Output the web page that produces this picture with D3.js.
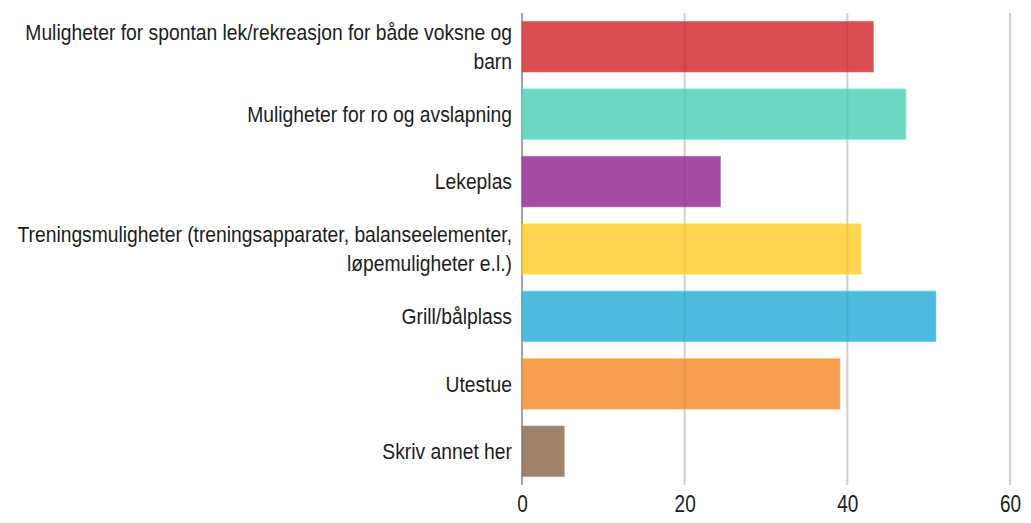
<!DOCTYPE html>
<html>
<head>
<meta charset="utf-8">
<script src="https://cdn.jsdelivr.net/npm/d3@7"></script>
<style>
  html, body { margin: 0; padding: 0; background: #fff; }
  .label text, .tick text { font-family: "Liberation Sans", Arial, sans-serif; fill: #1c1c1c; }
</style>
</head>
<body>
<div id="chart"></div>
<script>
// data
const categories = [
  "Muligheter for spontan lek/rekreasjon for både voksne og barn",
  "Muligheter for ro og avslapning",
  "Lekeplas",
  "Treningsmuligheter (treningsapparater, balanseelementer, løpemuligheter e.l.)",
  "Grill/bålplass",
  "Utestue",
  "Skriv annet her"
];
const values = [43.2, 47.2, 24.4, 41.7, 50.9, 39.1, 5.2];
const colors = ["#d94c4f", "#6dd8c2", "#a64ca6", "#ffd54f", "#4dbae0", "#f5a050", "#a0826a"];
const xTicks = [0, 20, 40, 60];

const width = 1031, height = 523;
const margin = {top: 13, right: 21, bottom: 38, left: 522};

const svg = d3.select("#chart").append("svg")
  .attr("width", width)
  .attr("height", height);

const x = d3.scaleLinear().domain([0, 60]).range([margin.left, width - margin.right]);
const y = d3.scaleBand().domain(categories).range([margin.top, height - margin.bottom])
  .paddingInner(0.25).paddingOuter(0.125);

function grid(color) {
  svg.append("g")
    .selectAll("line")
    .data(xTicks)
    .enter().append("line")
    .attr("x1", d => x(d)).attr("x2", d => x(d))
    .attr("y1", margin.top).attr("y2", height - margin.bottom)
    .style("stroke", d => color(d))
    .style("stroke-width", 2);
}

// grid lines under the bars
grid(d => d === 0 ? "#bbb" : "#ddd");

// bars
svg.append("g")
  .selectAll("rect")
  .data(values)
  .enter().append("rect")
  .attr("x", x(0))
  .attr("y", (d, i) => y(categories[i]))
  .attr("width", d => x(d) - x(0))
  .attr("height", y.bandwidth())
  .style("fill", (d, i) => colors[i])
  .style("stroke", (d, i) => d3.color(colors[i]).brighter(0.4))
  .style("stroke-opacity", 0.6)
  .style("stroke-width", 1);

// faint grid lines showing through the bars
grid(d => d === 0 ? "rgba(0,0,0,0.12)" : "rgba(0,0,0,0.06)");

// x axis labels
const xAxis = svg.append("g")
  .attr("transform", "translate(0," + (height - margin.bottom) + ")")
  .call(d3.axisBottom(x).tickValues(xTicks).tickSize(0).tickPadding(0));
xAxis.select(".domain").remove();
xAxis.selectAll("text")
  .attr("y", 0).attr("dy", null)
  .attr("transform", "translate(0,27) scale(1,1.3)")
  .style("font-size", "19px");

// category labels, wrapped to fit the left side
const labelRight = 512, maxWidth = 510, lineHeight = 29;
const labels = svg.append("g").attr("class", "label");
categories.forEach(function(c) {
  const cy = y(c) + y.bandwidth() / 2;
  const t = labels.append("text")
    .attr("text-anchor", "end")
    .attr("transform", "translate(" + labelRight + "," + cy + ") scale(1,1.15)")
    .style("font-size", "19.3px");
  const words = c.split(" ");
  let lines = [], line = [];
  words.forEach(function(w) {
    line.push(w);
    t.text(line.join(" "));
    if (t.node().getComputedTextLength() > maxWidth && line.length > 1) {
      line.pop();
      lines.push(line.join(" "));
      line = [w];
    }
  });
  lines.push(line.join(" "));
  t.text(null);
  lines.forEach(function(l, i) {
    t.append("tspan")
      .attr("x", 0)
      .attr("y", (i - (lines.length - 1) / 2) * lineHeight / 1.15)
      .attr("dy", "0.35em")
      .text(l);
  });
});
</script>
</body>
</html>
